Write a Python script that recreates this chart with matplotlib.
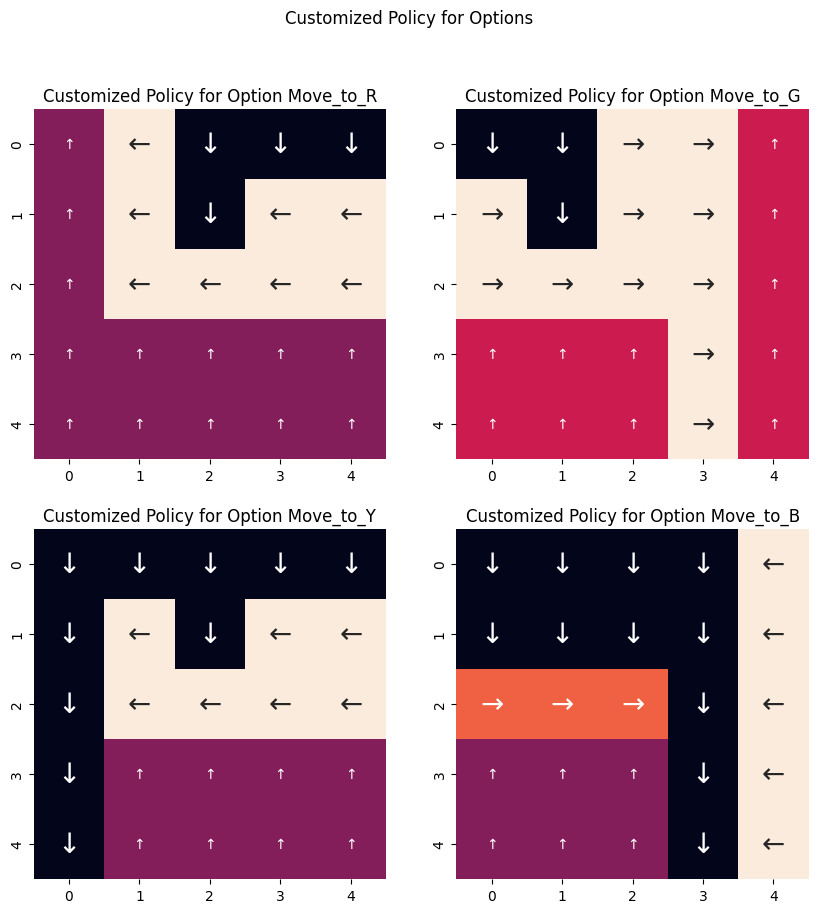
import matplotlib
matplotlib.use("Agg")
import matplotlib.pyplot as plt
import numpy as np
import seaborn as sns

# action codes: 0 = down, 1 = up, 2 = right, 3 = left
ARROWS = ["↓", "↑", "→", "←"]

option_names = ["Move_to_R", "Move_to_G", "Move_to_Y", "Move_to_B"]

policy_R = [
    [1, 3, 0, 0, 0],
    [1, 3, 0, 3, 3],
    [1, 3, 3, 3, 3],
    [1, 1, 1, 1, 1],
    [1, 1, 1, 1, 1],
]
policy_G = [
    [0, 0, 2, 2, 1],
    [2, 0, 2, 2, 1],
    [2, 2, 2, 2, 1],
    [1, 1, 1, 2, 1],
    [1, 1, 1, 2, 1],
]
policy_Y = [
    [0, 0, 0, 0, 0],
    [0, 3, 0, 3, 3],
    [0, 3, 3, 3, 3],
    [0, 1, 1, 1, 1],
    [0, 1, 1, 1, 1],
]
policy_B = [
    [0, 0, 0, 0, 3],
    [0, 0, 0, 0, 3],
    [2, 2, 2, 0, 3],
    [1, 1, 1, 0, 3],
    [1, 1, 1, 0, 3],
]
policies = [policy_R, policy_G, policy_Y, policy_B]

fig, axes = plt.subplots(2, 2, figsize=(10, 10))
fig.suptitle("Customized Policy for Options")

for ax, name, pol in zip(axes.flat, option_names, policies):
    grid = np.array(pol)
    labels = np.vectorize(lambda a: ARROWS[a])(grid)
    sns.heatmap(grid, annot=labels, fmt="", cbar=False, cmap="rocket",
                annot_kws={"fontsize": 20}, ax=ax)
    # the up arrows come out smaller in the original
    for t in ax.texts:
        if t.get_text() == "↑":
            t.set_fontsize(10)
    ax.set_title(f"Customized Policy for Option {name}")

fig.savefig("out.png", dpi=100, bbox_inches="tight")
